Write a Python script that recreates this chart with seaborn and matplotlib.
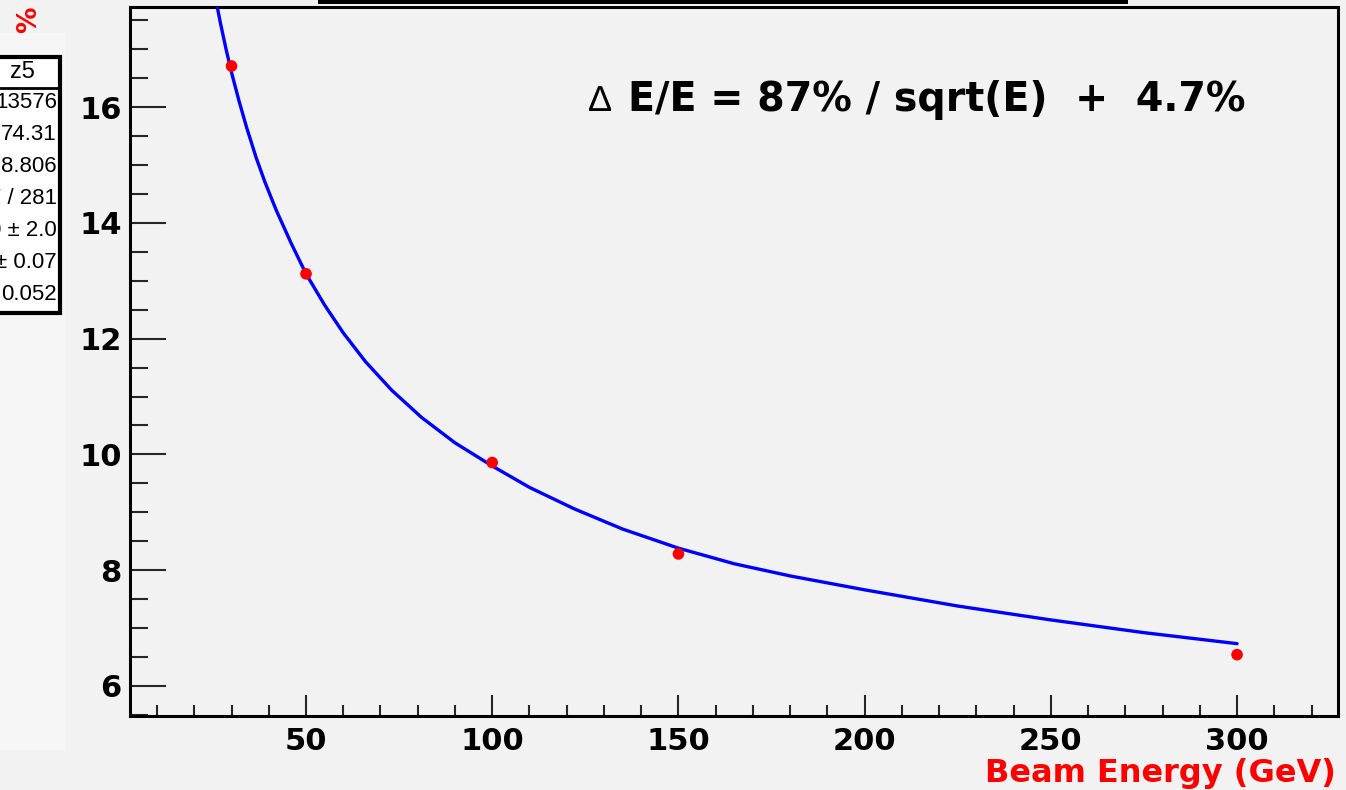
import matplotlib
matplotlib.use("Agg")
import matplotlib.pyplot as plt
import seaborn as sns
import pandas as pd
from matplotlib.patches import Rectangle
from matplotlib.ticker import MultipleLocator

# ---------------- data ----------------
beam_energy = [30, 50, 100, 150, 300]
resolution = [16.71, 13.12, 9.86, 8.28, 6.54]

# fitted curve
fit_energy = [25.8, 27, 28.5, 30, 32, 34, 36.6, 39, 42, 46, 50, 55, 60, 66,
              73, 81, 90, 100, 110, 122, 135, 150, 165, 180, 200, 225, 250,
              275, 300]
fit_value = [17.85, 17.46, 17.01, 16.60, 16.11, 15.66, 15.13, 14.70, 14.22,
             13.65, 13.12, 12.58, 12.10, 11.60, 11.11, 10.64, 10.20, 9.80,
             9.43, 9.06, 8.71, 8.38, 8.11, 7.90, 7.66, 7.38, 7.14, 6.92, 6.73]

x_ticks = [50, 100, 150, 200, 250, 300]
y_ticks = [6, 8, 10, 12, 14, 16]
formula_text = "E/E = 87% / sqrt(E)  +  4.7%"
x_label = "Beam Energy (GeV)"
y_label = "%"
stats_header = "z5"
stats_rows = ["13576", "74.31", "8.806", "7 / 281", "0 \u00b1 2.0", "\u00b1 0.07", "0.052"]

# ---------------- style ----------------
sns.set_theme(style="ticks")
plt.rcParams["font.family"] = ["DejaVu Sans"]

W, H = 1346, 790
BG = "#f2f2f2"
fig = plt.figure(figsize=(W / 100, H / 100), dpi=100, facecolor=BG)

def fx(px):
    return px / W

def fy(py):
    return 1 - py / H

# left light panel
fig.patches.append(Rectangle((fx(0), fy(750)), fx(65), (750 - 33) / H,
                             transform=fig.transFigure, facecolor="#f6f6f6",
                             edgecolor="none", zorder=0))
# title box bottom edge (cut off)
fig.patches.append(Rectangle((fx(318), fy(4)), fx(1128 - 318), 4 / H,
                             transform=fig.transFigure, facecolor="black",
                             edgecolor="none", zorder=1))

ax = fig.add_axes([fx(130), fy(716), fx(1338 - 130), (716 - 7) / H])
ax.set_facecolor(BG)

fit_df = pd.DataFrame({"E": fit_energy, "res": fit_value})
pts_df = pd.DataFrame({"E": beam_energy, "res": resolution})

sns.lineplot(data=fit_df, x="E", y="res", ax=ax, color="#0000ff",
             linewidth=2.4, sort=True, zorder=3)
sns.scatterplot(data=pts_df, x="E", y="res", ax=ax, color="#ff0000",
                s=70, edgecolor="none", zorder=4)

ax.set_xlim(2.74, 327.1)
ax.set_ylim(5.48, 17.73)
ax.set_xticks(x_ticks)
ax.set_yticks(y_ticks)
ax.xaxis.set_minor_locator(MultipleLocator(10))
ax.yaxis.set_minor_locator(MultipleLocator(0.5))
ax.set_xlabel("")
ax.set_ylabel("")

ax.tick_params(axis="x", which="major", direction="in", length=15, width=1.5,
               pad=8, labelsize=22, top=False)
ax.tick_params(axis="x", which="minor", direction="in", length=7.6, width=1.5,
               top=False)
ax.tick_params(axis="y", which="major", direction="in", length=26, width=1.5,
               pad=6, labelsize=22, right=False)
ax.tick_params(axis="y", which="minor", direction="in", length=13, width=1.5,
               right=False)
for lab in ax.get_xticklabels() + ax.get_yticklabels():
    lab.set_fontweight("bold")
    lab.set_color("black")

for side in ["left", "bottom", "right", "top"]:
    ax.spines[side].set_visible(True)
    ax.spines[side].set_color("black")
    ax.spines[side].set_linewidth(2.2)

# formula annotation
fig.text(fx(589), fy(111), "\u2206", fontsize=26, fontweight="normal",
         color="black", va="baseline", ha="left",
         family=["Liberation Sans", "DejaVu Sans"])
fig.text(fx(628), fy(111), formula_text, fontsize=28.5, fontweight="bold",
         color="black", va="baseline", ha="left")

# axis titles
fig.text(fx(1336), fy(782), x_label, fontsize=23, fontweight="bold",
         color="#ff0000", ha="right", va="baseline")
fig.text(fx(29), fy(20), y_label, fontsize=19, fontweight="bold",
         color="#ff0000", ha="center", va="center", rotation=90)

# stats box (cut off at left edge of the canvas)
fig.patches.append(Rectangle((fx(-20), fy(313)), fx(80), (313 - 57) / H,
                             transform=fig.transFigure, facecolor="white",
                             edgecolor="black", linewidth=3, zorder=2))
fig.lines.append(plt.Line2D([fx(0), fx(60)], [fy(88), fy(88)],
                            transform=fig.transFigure, color="black",
                            linewidth=2, zorder=3))
fig.text(fx(35), fy(72), stats_header, fontsize=17, color="black",
         ha="right", va="center", zorder=4,
         family=["Liberation Sans", "DejaVu Sans"])
row_y = [102, 135, 167, 198, 230, 262, 294]
for txt, yy in zip(stats_rows, row_y):
    fig.text(fx(57), fy(yy), txt, fontsize=16, color="black",
             ha="right", va="center", zorder=4,
             family=["Liberation Sans", "DejaVu Sans"])

fig.savefig("out.png", dpi=100, facecolor=BG)
